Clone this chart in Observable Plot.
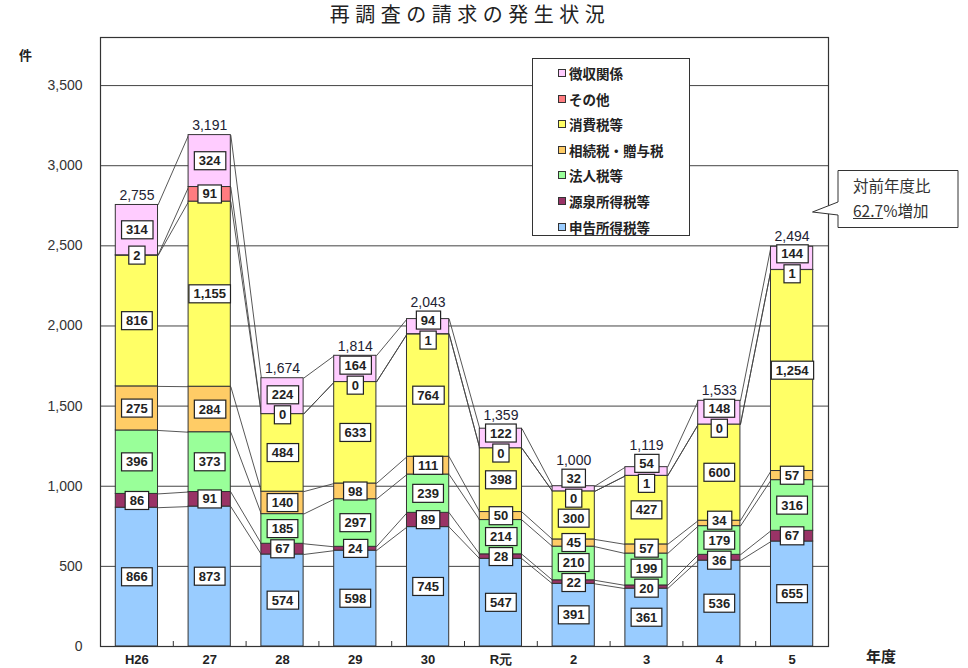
<!DOCTYPE html>
<html>
<head>
<meta charset="utf-8">
<script src="https://cdn.jsdelivr.net/npm/d3@7"></script>
<script src="https://cdn.jsdelivr.net/npm/@observablehq/plot@0.6"></script>
<style>
  body { margin: 0; background: #fff; }
  #wrap { position: relative; width: 968px; height: 668px; overflow: hidden; font-family: "Liberation Sans", Arial, sans-serif; }
  #title { height: 30px; width: 940px; text-align: center; line-height: 27px; font-family: "Noto Sans CJK JP", sans-serif; font-size: 20px; letter-spacing: 5.5px; color: #222; }
  #chart svg { display: block; }
  .abs { position: absolute; }
  #unit { left: 19px; top: 45px; font-family: "Noto Sans CJK JP", sans-serif; font-weight: bold; font-size: 13px; color: #222; }
  #xname { left: 866px; top: 645px; font-family: "Noto Sans CJK JP", sans-serif; font-weight: bold; font-size: 15px; color: #222; }
  #legend { left: 532px; top: 58px; width: 158px; height: 178px; background: #fff; border: 1px solid #333; box-sizing: border-box; }
  .lrow { position: absolute; left: 25px; height: 20px; display: flex; align-items: center; font-family: "Noto Sans CJK JP", sans-serif; font-weight: bold; font-size: 13.5px; color: #222; white-space: nowrap; }
  .lsw { width: 6px; height: 6px; border: 1px solid #333; margin-right: 3px; }
  #callout { left: 808px; top: 166px; width: 160px; height: 70px; }
  #callout .txt { position: absolute; left: 45px; font-family: "Noto Sans CJK JP", serif; font-size: 15.5px; color: #333; white-space: nowrap; }
</style>
</head>
<body>
<div id="wrap">
  <div id="title">再調査の請求の発生状況</div>
  <div id="chart"></div>
  <div id="unit" class="abs">件</div>
  <div id="xname" class="abs">年度</div>
  <div id="legend" class="abs"></div>
  <div id="callout" class="abs">
    <svg width="160" height="70" style="position:absolute;left:0;top:0">
      <path d="M30,4.5 H150 V61.5 H30 V49 L4.5,46 L30,36 Z" fill="#fff" stroke="#333" stroke-width="1"/>
    </svg>
    <div class="txt" style="top:8px">対前年度比</div>
    <div class="txt" style="top:33px"><span style="text-decoration:underline">62.7</span>%増加</div>
  </div>
</div>
<script>
// ---- data ----
const years = ["H26", "27", "28", "29", "30", "R元", "2", "3", "4", "5"];
const seriesNames = ["申告所得税等", "源泉所得税等", "法人税等", "相続税・贈与税", "消費税等", "その他", "徴収関係"];
const shinkoku = [866, 873, 574, 598, 745, 547, 391, 361, 536, 655];
const gensen   = [86, 91, 67, 24, 89, 28, 22, 20, 36, 67];
const hojin    = [396, 373, 185, 297, 239, 214, 210, 199, 179, 316];
const sozoku   = [275, 284, 140, 98, 111, 50, 45, 57, 34, 57];
const shohi    = [816, 1155, 484, 633, 764, 398, 300, 427, 600, 1254];
const sonota   = [2, 91, 0, 0, 1, 0, 0, 1, 0, 1];
const choshu   = [314, 324, 224, 164, 94, 122, 32, 54, 148, 144];
const totals   = [2755, 3191, 1674, 1814, 2043, 1359, 1000, 1119, 1533, 2494];
const colors   = ["#99CCFF", "#993366", "#99FF99", "#FFCC66", "#FFFF66", "#FF7C80", "#FFCCFF"];
const yTicks   = [0, 500, 1000, 1500, 2000, 2500, 3000, 3500];

const seriesValues = [shinkoku, gensen, hojin, sozoku, shohi, sonota, choshu];
const fmt = d3.format(",");
const half = 0.29; // half bar width in band units

// build stacked rows
const rows = [];
years.forEach((yr, i) => {
  let cum = 0;
  seriesValues.forEach((vals, s) => {
    const v = vals[i];
    rows.push({i, year: yr, series: seriesNames[s], s, value: v, y1: cum, y2: cum + v, mid: cum + v / 2});
    cum += v;
  });
});
// series connector lines between adjacent bars
const links = [];
for (let i = 0; i < years.length - 1; i++) {
  for (let s = 0; s < seriesNames.length; s++) {
    const a = rows.find(r => r.i === i && r.s === s);
    const b = rows.find(r => r.i === i + 1 && r.s === s);
    links.push({x1: i + half, x2: i + 1 - half, y1: a.y2, y2: b.y2});
  }
}
const totalRows = years.map((yr, i) => ({i, total: totals[i]}));
const boundaries = d3.range(years.length - 1).map(i => i + 0.5);

const W = 968, H = 638, mT = 7, mB = 22, mL = 100, mR = 140;
const plotH = H - mT - mB;

const chart = Plot.plot({
  width: W, height: H,
  marginTop: mT, marginBottom: mB, marginLeft: mL, marginRight: mR,
  style: {fontFamily: "'Liberation Sans', Arial, sans-serif", background: "#fff", color: "#222"},
  x: {domain: [-0.5, years.length - 0.5]},
  y: {domain: [0, 3800]},
  color: {domain: seriesNames, range: colors},
  marks: [
    Plot.ruleY(yTicks, {stroke: "#444", strokeWidth: 1}),
    Plot.link(links, {x1: "x1", x2: "x2", y1: "y1", y2: "y2", stroke: "#444", strokeWidth: 0.9}),
    Plot.rect(rows, {x1: d => d.i - half, x2: d => d.i + half, y1: "y1", y2: "y2", fill: "series", stroke: "#333", strokeWidth: 1}),
    Plot.tickX(boundaries, {x: d => d, stroke: "#333", insetTop: plotH - 5}),
    Plot.frame({stroke: "#333", strokeWidth: 1.2}),
    Plot.text(rows, {x: "i", y: "mid", text: d => fmt(d.value), fontSize: 13, fontWeight: "bold", fill: "#222", className: "seglabel"}),
    Plot.text(totalRows, {x: "i", y: "total", text: d => fmt(d.total), fontSize: 14, fill: "#223", lineAnchor: "bottom", dy: -5, className: "totlabel"}),
    Plot.axisY(yTicks, {tickSize: 0, tickPadding: 18, fontSize: 14, tickFormat: fmt, label: null, fill: "#333"}),
    Plot.axisX(d3.range(years.length), {tickSize: 0, tickPadding: 8, fontSize: 13, fontWeight: "bold", tickFormat: i => years[i], label: null})
  ]
});

document.getElementById("chart").append(chart);

// label boxes + simple vertical collision avoidance per bar
const texts = Array.from(chart.querySelectorAll("g.seglabel text"));
const items = texts.map(t => {
  const b = t.getBoundingClientRect();
  return {t, cx: b.x + b.width / 2, cy: b.y + b.height / 2, shift: 0};
});
const keyOf = cx => Math.round(cx / 30);
const groups = d3.groups(items, d => keyOf(d.cx));
const G = 20;
for (const [, g] of groups) {
  g.sort((a, b) => a.cy - b.cy);
  for (let iter = 0; iter < 200; iter++) {
    let moved = false;
    for (let j = 0; j < g.length - 1; j++) {
      const gap = (g[j + 1].cy + g[j + 1].shift) - (g[j].cy + g[j].shift);
      if (gap < G - 0.01) {
        const p = (G - gap) / 2;
        g[j].shift -= p; g[j + 1].shift += p; moved = true;
      }
    }
    if (!moved) break;
  }
}
const NS = "http://www.w3.org/2000/svg";
for (const it of items) {
  const t = it.t;
  const tr = ((t.getAttribute("transform") || "") + ` translate(0,${it.shift})`).trim();
  t.setAttribute("transform", tr);
  const bb = t.getBBox();
  const r = document.createElementNS(NS, "rect");
  r.setAttribute("x", bb.x - 4.5);
  r.setAttribute("y", bb.y - 1.5);
  r.setAttribute("width", bb.width + 9);
  r.setAttribute("height", bb.height + 3);
  r.setAttribute("fill", "#fff");
  r.setAttribute("stroke", "#222");
  r.setAttribute("stroke-width", "1.2");
  r.setAttribute("transform", tr);
  t.parentNode.insertBefore(r, t);
  it.r = r;
}
// lift total labels above the topmost label box of their bar when needed
const boxTop = new Map();
for (const it of items) {
  const k = keyOf(it.cx);
  const top = it.r.getBoundingClientRect().y;
  boxTop.set(k, Math.min(boxTop.has(k) ? boxTop.get(k) : Infinity, top));
}
for (const t of chart.querySelectorAll("g.totlabel text")) {
  const b = t.getBoundingClientRect();
  const k = keyOf(b.x + b.width / 2);
  const limit = boxTop.get(k) - 3;
  const bottom = b.y + b.height - 2;
  if (bottom > limit) {
    const tr = ((t.getAttribute("transform") || "") + ` translate(0,${limit - bottom})`).trim();
    t.setAttribute("transform", tr);
  }
}

// legend (top to bottom = reverse stacking order)
const legend = d3.select("#legend");
seriesNames.slice().reverse().forEach((name, k) => {
  const color = colors[seriesNames.indexOf(name)];
  const row = legend.append("div").attr("class", "lrow").style("top", (4 + k * 25.6) + "px");
  row.append("div").attr("class", "lsw").style("background", color);
  row.append("span").text(name);
});
</script>
</body>
</html>
